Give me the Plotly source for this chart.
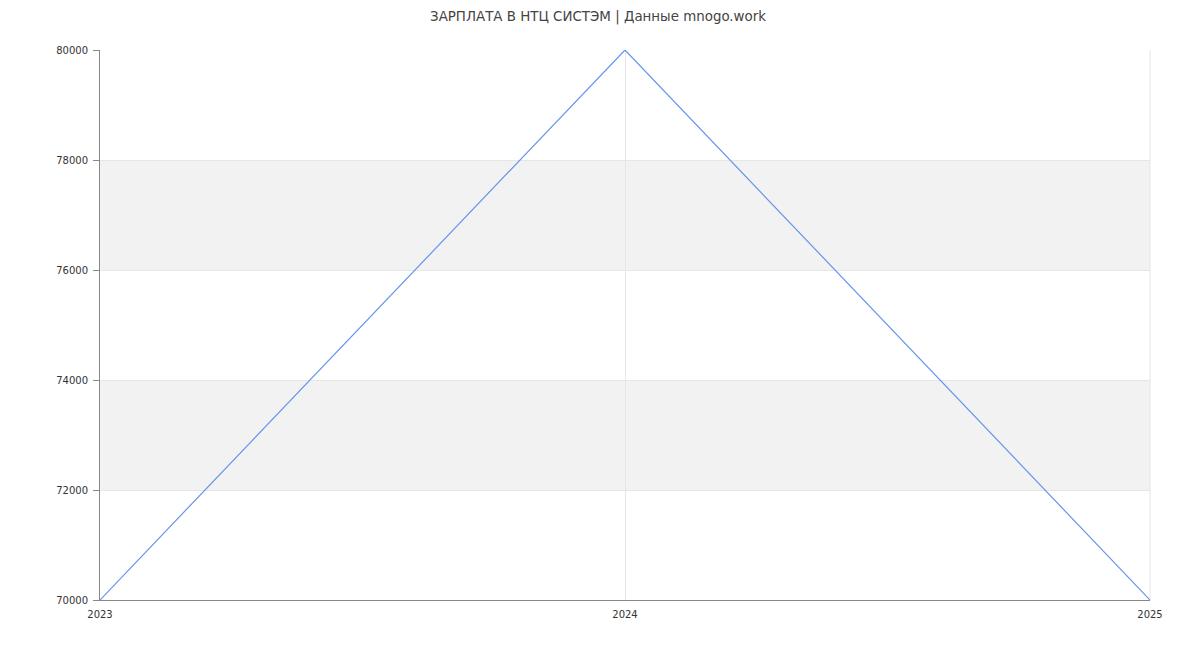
import plotly.graph_objects as go

years = [2023, 2024, 2025]
salaries = [70000, 80000, 70000]
y_ticks = [70000, 72000, 74000, 76000, 78000, 80000]
title_text = "ЗАРПЛАТА В НТЦ СИСТЭМ | Данные mnogo.work"

fig = go.Figure()
fig.add_trace(go.Scatter(x=years, y=salaries, mode="lines",
                         line=dict(color="#6495ED", width=1.2), hoverinfo="x+y"))

# alternating bands
shapes = []
for i in range(len(y_ticks) - 1):
    if i % 2 == 1:
        shapes.append(dict(type="rect", xref="paper", yref="y", x0=0, x1=1,
                           y0=y_ticks[i], y1=y_ticks[i + 1],
                           fillcolor="#f2f2f2", line=dict(width=0), layer="below"))

fig.update_layout(
    width=1200, height=650,
    margin=dict(l=92, r=58, t=42, b=58),
    paper_bgcolor="white", plot_bgcolor="white",
    font=dict(family="DejaVu Sans", size=10, color="#333333"),
    title=dict(text=title_text, x=0.4917, xanchor="center", xref="container",
               y=0.9877, yanchor="middle", yref="container",
               font=dict(size=13.4, color="#444444")),
    showlegend=False,
    shapes=shapes,
    xaxis=dict(range=[2023, 2025], tickvals=years, ticktext=[str(y) for y in years],
               showgrid=True, gridcolor="#e6e6e6", gridwidth=1,
               showline=True, linecolor="#888888", linewidth=1,
               zeroline=False, ticks="", ticklabelstandoff=5, fixedrange=True),
    yaxis=dict(range=[70000, 80000], tickvals=y_ticks,
               showgrid=True, gridcolor="#e6e6e6", gridwidth=1,
               showline=True, linecolor="#888888", linewidth=1,
               zeroline=False, ticks="outside", ticklen=6, tickcolor="#888888",
               ticklabelstandoff=3, tickformat="d", fixedrange=True),
)
# right border line as grid
fig.add_shape(type="line", xref="paper", yref="paper", x0=1, x1=1, y0=0, y1=1,
              line=dict(color="#e6e6e6", width=1), layer="below")

fig.write_html("out.html")
